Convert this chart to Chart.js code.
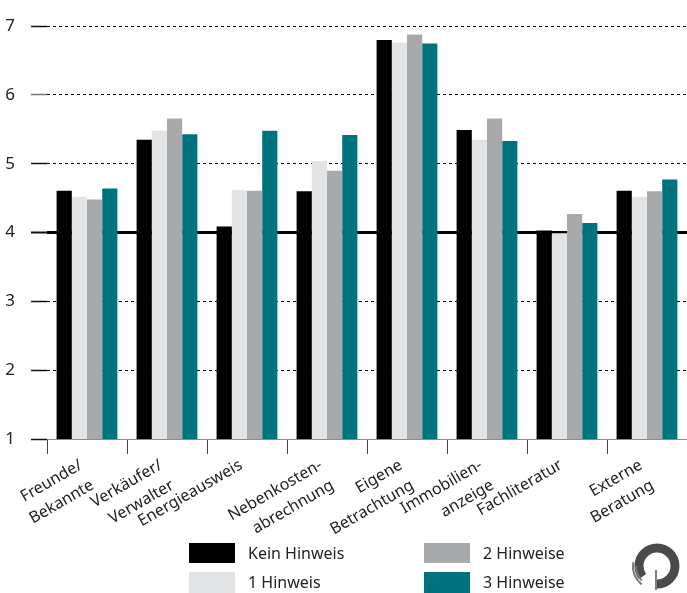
<!DOCTYPE html>
<html>
<head>
<meta charset="utf-8">
<script src="https://cdn.jsdelivr.net/npm/chart.js@4"></script>
<style>
    html, body { margin: 0; padding: 0; background: #fff; }
    #wrap { width: 687px; height: 593px; position: relative; }
</style>
</head>
<body>
<div id="wrap"><canvas id="hinweisChart"></canvas></div>
<script>
const categories = [
    ['Freunde/', 'Bekannte'],
    ['Verkäufer/', 'Verwalter'],
    'Energieausweis',
    ['Nebenkosten-', 'abrechnung'],
    ['Eigene', 'Betrachtung'],
    ['Immobilien-', 'anzeige'],
    'Fachliteratur',
    ['Externe', 'Beratung']
];
const seriesLabels = ['Kein Hinweis', '1 Hinweis', '2 Hinweise', '3 Hinweise'];
const keinHinweis = [4.61, 5.35, 4.09, 4.60, 6.80, 5.49, 4.03, 4.61];
const einHinweis = [4.52, 5.48, 4.62, 5.04, 6.76, 5.35, 3.99, 4.52];
const zweiHinweise = [4.48, 5.66, 4.61, 4.90, 6.88, 5.66, 4.27, 4.60];
const dreiHinweise = [4.64, 5.43, 5.48, 5.42, 6.75, 5.33, 4.14, 4.77];
const yTicks = [1, 2, 3, 4, 5, 6, 7];

const colors = ['#000000', '#e2e3e5', '#a8a9ab', '#00737f'];
const fontFamily = '"Noto Sans", "Open Sans", sans-serif';
const textColor = '#222222';

// legend in two columns and the small logo, drawn after the chart
const extrasPlugin = {
    id: 'extras',
    afterDraw(chart) {
        const ctx = chart.ctx;
        const slots = [
            { x: 189, y: 543, h: 20 },
            { x: 189, y: 572, h: 21 },
            { x: 424, y: 543, h: 20 },
            { x: 424, y: 572, h: 21 }
        ];
        ctx.save();
        ctx.font = '16px ' + fontFamily;
        ctx.textBaseline = 'middle';
        ctx.textAlign = 'left';
        chart.data.datasets.forEach((ds, i) => {
            const s = slots[i];
            ctx.fillStyle = ds.backgroundColor;
            ctx.fillRect(s.x, s.y, 46, s.h);
            ctx.fillStyle = textColor;
            ctx.fillText(ds.label, s.x + 59, s.y + s.h / 2 + 1);
        });

        // logo swoosh
        const cx = 657, cy = 566;
        ctx.strokeStyle = '#4a4a4a';
        ctx.lineCap = 'butt';
        ctx.lineWidth = 9;
        ctx.beginPath();
        ctx.arc(cx, cy, 18, Math.PI * 0.5, Math.PI * 0.8, true);
        ctx.stroke();
        ctx.lineWidth = 2;
        ctx.strokeStyle = '#777';
        ctx.beginPath();
        ctx.arc(cx, cy, 24, Math.PI * 0.72, Math.PI * 1.05, false);
        ctx.stroke();
        ctx.beginPath();
        ctx.arc(cx, cy, 21, Math.PI * 0.76, Math.PI * 1.0, false);
        ctx.stroke();
        ctx.lineWidth = 1.5;
        ctx.strokeStyle = '#555';
        ctx.beginPath();
        ctx.moveTo(cx - 1, cy + 4);
        ctx.lineTo(cx - 1, cy + 24);
        ctx.stroke();
        ctx.restore();
    }
};

const series = [keinHinweis, einHinweis, zweiHinweise, dreiHinweise];

const ctx = document.getElementById('hinweisChart').getContext('2d');
new Chart(ctx, {
    type: 'bar',
    data: {
        labels: categories,
        datasets: series.map((values, i) => ({
            label: seriesLabels[i],
            data: values,
            backgroundColor: colors[i],
            borderWidth: 0,
            categoryPercentage: 0.76,
            barPercentage: 1.0
        }))
    },
    options: {
        responsive: true,
        maintainAspectRatio: false,
        animation: false,
        layout: {
            padding: { left: 0, right: 0, top: 18, bottom: 54 }
        },
        plugins: {
            legend: { display: false },
            tooltip: { enabled: false }
        },
        scales: {
            x: {
                grid: {
                    offset: true,
                    drawOnChartArea: false,
                    drawTicks: true,
                    tickLength: 15,
                    tickColor: '#444',
                    lineWidth: 1
                },
                border: { display: true, color: '#8c8c8c', width: 1 },
                ticks: {
                    minRotation: 30,
                    maxRotation: 30,
                    autoSkip: false,
                    padding: 0,
                    labelOffset: -6,
                    color: textColor,
                    font: { family: fontFamily, size: 16, lineHeight: 1.45 }
                },
                afterFit: function (scale) {
                    scale.height = 100;
                }
            },
            y: {
                min: 1,
                max: 7,
                afterBuildTicks: function (scale) {
                    scale.ticks = yTicks.map(v => ({ value: v }));
                },
                afterFit: function (scale) {
                    scale.width = 47;
                },
                grid: {
                    drawTicks: true,
                    tickLength: 16,
                    color: (c) => c.tick && c.tick.value === 1 ? '#8c8c8c' : '#000',
                    lineWidth: (c) => c.tick && c.tick.value === 4 ? 3 : 1,
                    tickColor: (c) => c.tick && c.tick.value === 6 ? '#777' : '#111',
                    tickWidth: (c) => c.tick && c.tick.value === 4 ? 2 : 1.5,
                    tickBorderDash: []
                },
                border: {
                    display: false,
                    dash: (c) => c.tick && (c.tick.value === 4 || c.tick.value === 1) ? [] : [3, 3]
                },
                ticks: {
                    padding: 16,
                    color: textColor,
                    font: { family: fontFamily, size: 17 }
                }
            }
        }
    },
    plugins: [extrasPlugin]
});
</script>
</body>
</html>
